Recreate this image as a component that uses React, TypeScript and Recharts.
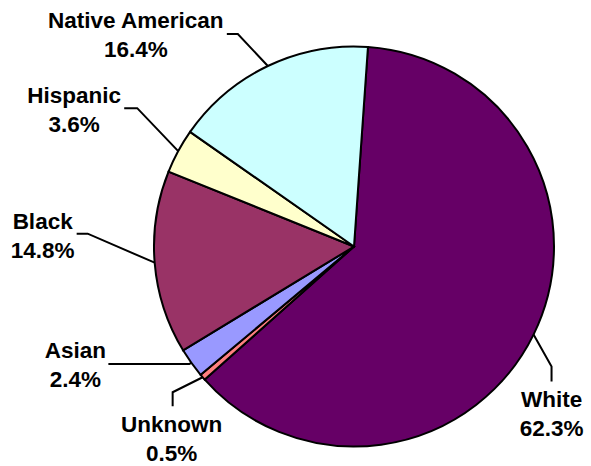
import { Pie, PieChart, Cell } from "recharts";

const groups = ["White", "Unknown", "Asian", "Black", "Hispanic", "Native American"];
const shares = [62.3, 0.5, 2.4, 14.8, 3.6, 16.4];
const colors = ["#660066", "#FF8080", "#9999FF", "#993366", "#FFFFCC", "#CCFFFF"];

// label block + leader line, offsets from the slice's outer edge midpoint
const labelLayout = [
  { dx: 18, dy: 78, bend: [18, 32], end: [18, 47] },
  { dx: -31, dy: 61, bend: [-30, 15], end: [-30, 29] },
  { dx: -116, dy: 1, bend: [-2, 1], end: [-83, 1] },
  { dx: -112, dy: -28, bend: [-67, -29], end: [-78, -29] },
  { dx: -104, dy: -42, bend: [-41, -43], end: [-54, -43] },
  { dx: -132, dy: -32, bend: [-30, -32], end: [-41, -32] },
];

const data = groups.map((name, i) => ({ name, value: shares[i] }));

const RADIAN = Math.PI / 180;

const renderLabel = (props: any) => {
  const { cx, cy, midAngle, outerRadius, index } = props;
  const ex = cx + outerRadius * Math.cos(-midAngle * RADIAN);
  const ey = cy + outerRadius * Math.sin(-midAngle * RADIAN);
  const l = labelLayout[index];
  const lx = ex + l.dx;
  const ly = ey + l.dy;
  return (
    <g key={`lbl-${index}`}>
      <polyline
        points={`${ex},${ey} ${ex + l.bend[0]},${ey + l.bend[1]} ${ex + l.end[0]},${ey + l.end[1]}`}
        fill="none"
        stroke="#000"
        strokeWidth={2}
      />
      <text
        x={lx}
        textAnchor="middle"
        fontFamily="'Liberation Sans', Arial, sans-serif"
        fontWeight="bold"
        fontSize={22.5}
        fill="#000"
      >
        <tspan x={lx} y={ly - 6}>{groups[index]}</tspan>
        <tspan x={lx} y={ly + 23}>{`${shares[index].toFixed(1)}%`}</tspan>
      </text>
    </g>
  );
};

export default function App() {
  return (
    <div style={{ width: 591, height: 466, background: "#fff" }}>
      <style>{`body{margin:0}`}</style>
      <PieChart width={591} height={466} margin={{ top: 0, right: 0, bottom: 0, left: 0 }}>
        <Pie
          data={data}
          dataKey="value"
          nameKey="name"
          cx={354}
          cy={246.5}
          outerRadius={200}
          startAngle={86}
          endAngle={-274}
          stroke="#000"
          strokeWidth={2}
          label={renderLabel}
          labelLine={false}
          isAnimationActive={false}
        >
          {data.map((d, i) => (
            <Cell key={d.name} fill={colors[i]} />
          ))}
        </Pie>
      </PieChart>
    </div>
  );
}
